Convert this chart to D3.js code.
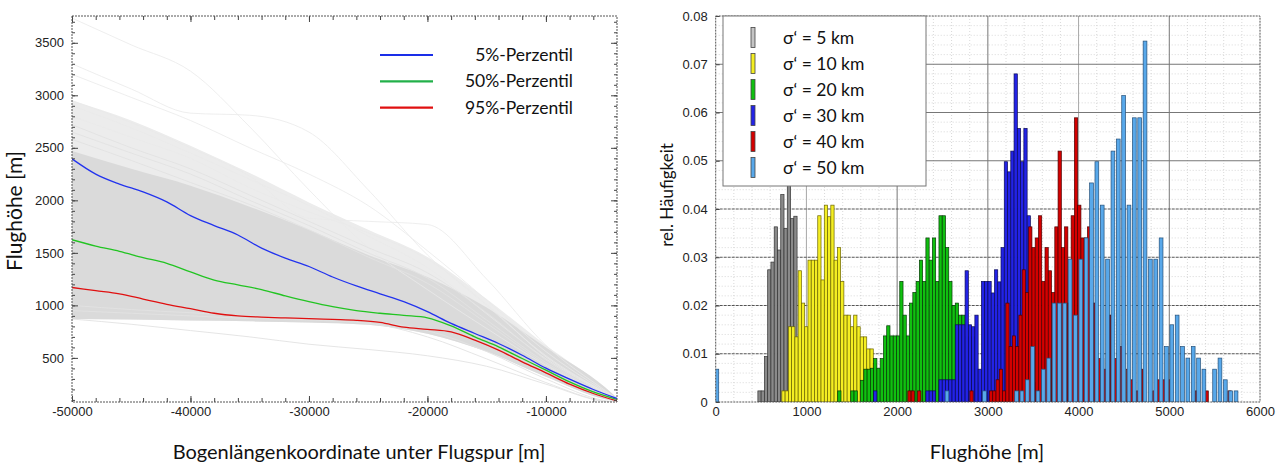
<!DOCTYPE html>
<html lang="de">
<head>
<meta charset="utf-8">
<title>Flughöhe – Perzentile und Häufigkeiten</title>
<script src="https://d3js.org/d3.v7.min.js"></script>
<style>
    body { margin: 0; background: #fff; }
    .tick text { font-family: "Liberation Sans", Arial, sans-serif; font-size: 13px; fill: #222; }
    .tick line { stroke: #444; }
    .axisTitle { font-family: Lato, "Open Sans", sans-serif; font-size: 20px; fill: #111; }
    .legendText { font-family: Lato, "Open Sans", sans-serif; font-size: 17.5px; fill: #111; }
    .frame { fill: none; stroke: #555; stroke-width: 1; stroke-dasharray: 2, 1; }
</style>
</head>
<body>
<script>
var w = 1283, h = 464;

// ---------- left chart: altitude along the track ----------
var xGrid = [-50000, -48000, -46000, -44000, -42000, -40000, -38000, -36000, -34000, -32000, -30000, -28000,
             -26000, -24000, -22000, -20000, -18000, -16000, -14000, -12000, -10000, -8000, -6000, -4000];
var p5  = [2395, 2250, 2155, 2080, 1985, 1855, 1760, 1670, 1545, 1450, 1370, 1270,
           1185, 1110, 1035, 940, 828, 732, 637, 525, 402, 297, 199, 113];
var p50 = [1625, 1565, 1515, 1455, 1400, 1318, 1240, 1195, 1150, 1090, 1035, 987,
           950, 925, 905, 882, 805, 700, 605, 494, 383, 271, 176, 104];
var p95 = [1170, 1140, 1110, 1060, 1010, 968, 925, 900, 888, 880, 874, 866,
           858, 838, 792, 772, 748, 669, 574, 462, 358, 250, 161, 90];
var percentileNames = ["5%-Perzentil", "50%-Perzentil", "95%-Perzentil"];

// single trajectories (grey spaghetti), coarser grid
var traceGrid = [-50000, -45000, -40000, -35000, -30000, -25000, -20000, -15000, -10000, -5000, -4000];
var hazeTop    = [2950, 2760, 2520, 2260, 1980, 1720, 1460, 1060, 620, 215, 120];
var bandTop    = [2470, 2300, 2140, 1940, 1720, 1480, 1270, 980, 600, 220, 118];
var bandBottom = [870, 865, 855, 848, 838, 815, 730, 560, 320, 105, 82];
var trace1  = [3735, 3480, 3230, 2700, 2100, 1550, 1150, 780, 430, 150, 100];
var trace2  = [3300, 3060, 2830, 2810, 2650, 2100, 1480, 1000, 520, 170, 105];
var trace3  = [3200, 2980, 2760, 2500, 2250, 1950, 1520, 1050, 560, 180, 110];
var trace4  = [2950, 2740, 2500, 2230, 1830, 1800, 1770, 1250, 620, 190, 110];
var trace5  = [2900, 2690, 2450, 2200, 1950, 1660, 1360, 920, 490, 160, 100];
var trace6  = [2800, 2600, 2400, 2120, 1890, 1690, 1440, 1010, 510, 165, 100];
var trace7  = [2720, 2500, 2300, 2050, 1800, 1550, 1310, 930, 480, 150, 98];
var trace8  = [2650, 2450, 2250, 2000, 1760, 1500, 1260, 860, 455, 150, 95];
var trace9  = [2580, 2380, 2170, 1960, 1720, 1460, 1210, 830, 440, 148, 95];
var trace10 = [1000, 960, 930, 900, 880, 850, 760, 560, 300, 92, 76];
var trace11 = [950, 925, 900, 875, 860, 830, 700, 490, 265, 85, 72];
var trace12 = [870, 820, 760, 700, 630, 580, 520, 420, 250, 82, 70];
var faintTraces = [trace1, trace2, trace3, trace4, trace5, trace6];
var traces = [trace7, trace8, trace9, trace10, trace11, trace12];

// ---------- right chart: histograms of flight altitude ----------
var binWidth = 36;        // m
var wideBinWidth = 59;    // m, sigma' = 50 km
var sigma5Start = 465;
var sigma5 = [0.0023, 0.0023, 0.0094, 0.0274, 0.029, 0.0363, 0.0315, 0.043, 0.036, 0.049, 0.038, 0.0385, 0.012, 0.004];
var sigma10Start = 729;
var sigma10 = [0.0023, 0.0023, 0.0156, 0.0156, 0.0135, 0.0272, 0.0205, 0.0156, 0.0294, 0.0294, 0.0294, 0.0386, 0.0253,
               0.0408, 0.0384, 0.0408, 0.0294, 0.032, 0.025, 0.018, 0.018, 0.0156, 0.018, 0.0156, 0.0135, 0.0135,
               0.011, 0.011, 0.008, 0.004];
var sigma20Start = 1345;
var sigma20 = [0.0023, 0, 0, 0, 0.0023, 0.0023, 0, 0.0045, 0.0068, 0.0068, 0.007, 0.009, 0.007, 0.009, 0.0137,
               0.0158, 0.0137, 0.0137, 0.0137, 0.025, 0.018, 0.0137, 0.0205, 0.0227, 0.025, 0.0294, 0.025, 0.034,
               0.0294, 0.034, 0.025, 0.0386, 0.0386, 0.032, 0.025, 0.02, 0.0205, 0.018, 0.018, 0.0135, 0.0135,
               0.0135, 0.004];
var sigma30Start = 1741;
var sigma30 = [0.0023, 0, 0, 0, 0, 0, 0, 0, 0, 0, 0, 0, 0, 0, 0, 0, 0.0023, 0.0023, 0.0023, 0, 0.0046, 0.0046,
               0.0046, 0.0046, 0.0046, 0.016, 0.016, 0.016, 0.0272, 0.016, 0.0156, 0.018, 0.0068, 0.025, 0.025,
               0.025, 0.0226, 0.0274, 0.0249, 0.032, 0.0498, 0.0477, 0.052, 0.068, 0.0567, 0.0498, 0.0567,
               0.0386, 0.016, 0.004];
var sigma40Start = 2082;
var sigma40 = [0, 0.0023, 0.0023, 0, 0.0023, 0, 0, 0, 0, 0, 0, 0, 0, 0, 0, 0, 0, 0, 0, 0, 0.0023, 0, 0, 0, 0, 0,
               0.0023, 0.0023, 0.0046, 0.0068, 0.0023, 0.0205, 0.0115, 0.0137, 0.0115, 0.018, 0.0274, 0.0227,
               0.0363, 0.032, 0.034, 0.0386, 0.025, 0.032, 0.0272, 0.0227, 0.0363, 0.052, 0.032, 0.0363, 0.0205,
               0.0386, 0.0589, 0.0408, 0.034, 0.034, 0.0363, 0.0205, 0.0205, 0.009, 0.009, 0.0068, 0.018, 0.018,
               0.009, 0, 0.0115, 0, 0.0068, 0.0046, 0, 0.0023, 0.0068, 0, 0, 0, 0.0023, 0.0046, 0, 0.0046, 0,
               0.0046, 0, 0, 0, 0, 0, 0, 0, 0.0023, 0, 0, 0.0023, 0, 0, 0, 0, 0, 0, 0.0023];
var sigma50Start = -8;
var sigma50 = [0.0068, 0, 0, 0, 0, 0, 0, 0, 0, 0, 0, 0, 0, 0, 0, 0, 0, 0, 0, 0, 0, 0, 0, 0, 0, 0, 0, 0, 0, 0, 0,
               0, 0, 0, 0, 0, 0, 0, 0, 0, 0, 0, 0, 0.0023, 0, 0, 0, 0, 0, 0, 0.0023, 0, 0, 0, 0, 0, 0.0023,
               0.0023, 0.0046, 0.0115, 0.0023, 0.0068, 0.0091, 0.0205, 0.0205, 0.0205, 0.0296, 0.018, 0.0296,
               0.034, 0.0454, 0.0498, 0.0408, 0.0296, 0.052, 0.0545, 0.0635, 0.0408, 0.0589, 0.0589, 0.0748,
               0.0296, 0.0296, 0.034, 0.0115, 0.016, 0.018, 0.0115, 0.0091, 0.0115, 0.0091, 0.0068, 0, 0.0068,
               0.0091, 0.0046, 0.0023, 0.0023];
var sigmaLabels = ["σ‘ = 5 km", "σ‘ = 10 km", "σ‘ = 20 km", "σ‘ = 30 km", "σ‘ = 40 km", "σ‘ = 50 km"];
var xTicksRight = [0, 1000, 2000, 3000, 4000, 5000, 6000];
var yTicksRight = [0, 0.01, 0.02, 0.03, 0.04, 0.05, 0.06, 0.07, 0.08];

var svg = d3.select("body").append("svg")
    .attr("width", w)
    .attr("height", h);

// plain numbers with an ascii minus, as in the original plot
var plainNum = function(d) { return String(d); };

// =============== LEFT ===============
var L = { x0: 72, x1: 617, y0: 16, y1: 402 };
var xL = d3.scaleLinear().domain([-50000, -4000]).range([L.x0, L.x1]);
var yL = d3.scaleLinear().domain([80, 3755]).range([L.y1, L.y0]);

svg.append("clipPath").attr("id", "clipL")
    .append("rect").attr("x", L.x0).attr("y", L.y0).attr("width", L.x1 - L.x0).attr("height", L.y1 - L.y0);
var gL = svg.append("g").attr("clip-path", "url(#clipL)");

// lighter haze of many lines above, dense grey core below
var band = d3.area()
    .x(function(d, i) { return xL(traceGrid[i]); })
    .y0(function(d, i) { return yL(bandBottom[i]); })
    .y1(function(d) { return yL(d); })
    .curve(d3.curveMonotoneX);
gL.append("path").datum(hazeTop).attr("d", band).attr("fill", "#ececec");
gL.append("path").datum(bandTop).attr("d", band).attr("fill", "#dadada");

var traceLine = d3.line()
    .x(function(d, i) { return xL(traceGrid[i]); })
    .y(function(d) { return yL(d); })
    .curve(d3.curveMonotoneX);
gL.selectAll(".faint").data(faintTraces).enter().append("path")
    .attr("d", traceLine).attr("fill", "none").attr("stroke", "#eaeaea").attr("stroke-width", 0.8);
gL.selectAll(".trace").data(traces).enter().append("path")
    .attr("d", traceLine).attr("fill", "none").attr("stroke", "#e2e2e2").attr("stroke-width", 0.9);

// percentile lines
var pLine = d3.line()
    .x(function(d, i) { return xL(xGrid[i]); })
    .y(function(d) { return yL(d); })
    .curve(d3.curveMonotoneX);
var pColors = ["#2233ee", "#22c422", "#e01010"];
[p95, p50, p5].forEach(function(s, k) {
    gL.append("path").datum(s).attr("d", pLine)
        .attr("fill", "none").attr("stroke", pColors[2 - k]).attr("stroke-width", 1.3);
});

// axes, ticks pointing inward
function noDomain(g) { g.select(".domain").remove(); }
svg.append("g").attr("transform", "translate(0," + L.y1 + ")")
    .call(d3.axisBottom(xL).tickValues([-50000, -40000, -30000, -20000, -10000]).tickSize(-6).tickPadding(5)
        .tickFormat(plainNum)).call(noDomain);
svg.append("g").attr("transform", "translate(0," + L.y1 + ")")
    .call(d3.axisBottom(xL).tickValues(d3.range(-48000, -4000, 2000)).tickSize(-4).tickFormat("")).call(noDomain);
svg.append("g").attr("transform", "translate(0," + L.y0 + ")")
    .call(d3.axisTop(xL).tickValues([-50000, -40000, -30000, -20000, -10000]).tickSize(-6).tickFormat("")).call(noDomain);
svg.append("g").attr("transform", "translate(0," + L.y0 + ")")
    .call(d3.axisTop(xL).tickValues(d3.range(-48000, -4000, 2000)).tickSize(-4).tickFormat("")).call(noDomain);
svg.append("g").attr("transform", "translate(" + L.x0 + ",0)")
    .call(d3.axisLeft(yL).tickValues(d3.range(500, 3501, 500)).tickSize(-6).tickPadding(8).tickFormat(plainNum))
    .call(noDomain);
svg.append("g").attr("transform", "translate(" + L.x0 + ",0)")
    .call(d3.axisLeft(yL).tickValues(d3.range(100, 3701, 100)).tickSize(-3).tickFormat("")).call(noDomain);
svg.append("g").attr("transform", "translate(" + L.x1 + ",0)")
    .call(d3.axisRight(yL).tickValues(d3.range(500, 3501, 500)).tickSize(-6).tickFormat("")).call(noDomain);
svg.append("g").attr("transform", "translate(" + L.x1 + ",0)")
    .call(d3.axisRight(yL).tickValues(d3.range(100, 3701, 100)).tickSize(-3).tickFormat("")).call(noDomain);

svg.append("rect").attr("class", "frame")
    .attr("x", L.x0).attr("y", L.y0).attr("width", L.x1 - L.x0).attr("height", L.y1 - L.y0);

// legend
var legL = svg.append("g");
percentileNames.forEach(function(name, i) {
    var yy = 55 + i * 26.3;
    legL.append("line").attr("x1", 380).attr("x2", 433).attr("y1", yy).attr("y2", yy)
        .attr("stroke", ["#1a2ee8", "#22b04a", "#e01010"][i]).attr("stroke-width", 2.2);
    legL.append("text").attr("class", "legendText").attr("x", 573).attr("y", yy + 6)
        .attr("text-anchor", "end").text(name);
});

svg.append("text").attr("class", "axisTitle").attr("text-anchor", "middle").style("font-size", "21px")
    .attr("transform", "translate(22,211) rotate(-90)").text("Flughöhe [m]");
svg.append("text").attr("class", "axisTitle").attr("text-anchor", "middle")
    .attr("x", 359).attr("y", 459).text("Bogenlängenkoordinate unter Flugspur [m]");

// =============== RIGHT ===============
var R = { x0: 715.7, x1: 1260, y0: 16, y1: 402 };
var xR = d3.scaleLinear().domain([0, 6000]).range([R.x0, R.x1]);
var yR = d3.scaleLinear().domain([0, 0.08]).range([R.y1, R.y0]);

var grid = svg.append("g");
// minor grid
grid.selectAll(".vmin").data(d3.range(200, 6000, 200).filter(function(d) { return d % 1000 !== 0; }))
    .enter().append("line")
    .attr("x1", function(d) { return xR(d); }).attr("x2", function(d) { return xR(d); })
    .attr("y1", R.y0).attr("y2", R.y1)
    .attr("stroke", "#cfcfcf").attr("stroke-width", 0.8).attr("stroke-dasharray", "1,2");
grid.selectAll(".hmin").data(d3.range(1, 40).map(function(k) { return k * 0.002; })
        .filter(function(d, i) { return (i + 1) % 5 !== 0; }))
    .enter().append("line")
    .attr("x1", R.x0).attr("x2", R.x1)
    .attr("y1", function(d) { return yR(d); }).attr("y2", function(d) { return yR(d); })
    .attr("stroke", "#cfcfcf").attr("stroke-width", 0.8).attr("stroke-dasharray", "1,2");
// major grid
grid.selectAll(".vmaj").data([1000, 2000, 3000, 4000, 5000]).enter().append("line")
    .attr("x1", function(d) { return xR(d); }).attr("x2", function(d) { return xR(d); })
    .attr("y1", R.y0).attr("y2", R.y1)
    .attr("stroke", function(d) { return d === 4000 || d === 1000 ? "#a8a8a8" : "#777"; }).attr("stroke-width", 1);
grid.selectAll(".hmaj").data([0.01, 0.02, 0.03, 0.04, 0.05, 0.06, 0.07]).enter().append("line")
    .attr("x1", R.x0).attr("x2", R.x1)
    .attr("y1", function(d) { return yR(d); }).attr("y2", function(d) { return yR(d); })
    .attr("stroke", function(d) { return d > 0.045 ? "#777" : "#555"; }).attr("stroke-width", 1)
    .attr("stroke-dasharray", function(d) { return d > 0.045 ? null : "3,1"; });

svg.append("clipPath").attr("id", "clipR")
    .append("rect").attr("x", R.x0).attr("y", R.y0).attr("width", R.x1 - R.x0).attr("height", R.y1 - R.y0);
var gR = svg.append("g").attr("clip-path", "url(#clipR)");

var series = [
    { values: sigma5,  start: sigma5Start,  width: binWidth,     fill: "#8a8a8a", stroke: "#333", frac: 1 },
    { values: sigma10, start: sigma10Start, width: binWidth,     fill: "#f4ee22", stroke: "#6b6400", frac: 1 },
    { values: sigma20, start: sigma20Start, width: binWidth,     fill: "#10c010", stroke: "#063806", frac: 1 },
    { values: sigma30, start: sigma30Start, width: binWidth,     fill: "#2323e6", stroke: "#0a0a55", frac: 1 },
    { values: sigma40, start: sigma40Start, width: binWidth,     fill: "#d40000", stroke: "#4a0000", frac: 1 },
    { values: sigma50, start: sigma50Start, width: wideBinWidth, fill: "#58a8ea", stroke: "#24507a", frac: 0.7 }
];
var swatchFills = ["#c4c4c4", "#f4ee22", "#10c010", "#2323e6", "#d40000", "#58a8ea"];
series.forEach(function(s) {
    var bins = s.values.map(function(v, i) { return { x0: s.start + i * s.width, v: v }; })
        .filter(function(b) { return b.v > 0; });
    gR.selectAll(null).data(bins).enter().append("rect")
        .attr("x", function(b) { return xR(b.x0); })
        .attr("width", function(b) { return (xR(b.x0 + s.width) - xR(b.x0)) * s.frac; })
        .attr("y", function(b) { return yR(b.v); })
        .attr("height", function(b) { return yR(0) - yR(b.v); })
        .attr("fill", s.fill).attr("stroke", s.stroke).attr("stroke-width", 0.7);
});

svg.append("g").attr("transform", "translate(0," + R.y1 + ")")
    .call(d3.axisBottom(xR).tickValues(xTicksRight).tickSize(0).tickPadding(5).tickFormat(plainNum))
    .call(noDomain);
svg.append("g").attr("transform", "translate(" + R.x0 + ",0)")
    .call(d3.axisLeft(yR).tickValues(yTicksRight).tickSize(-4).tickPadding(8)
        .tickFormat(function(d) { return d === 0 ? "0" : d3.format(".2f")(d); }))
    .call(noDomain);
svg.append("rect").attr("class", "frame")
    .attr("x", R.x0).attr("y", R.y0).attr("width", R.x1 - R.x0).attr("height", R.y1 - R.y0);

// legend box
var legR = svg.append("g");
legR.append("rect").attr("x", 723).attr("y", 16).attr("width", 203).attr("height", 170)
    .attr("fill", "#fff").attr("stroke", "#777").attr("stroke-width", 1);
sigmaLabels.forEach(function(label, i) {
    var yy = 37.5 + i * 26;
    legR.append("rect").attr("x", 751).attr("y", yy - 10).attr("width", 4).attr("height", 20)
        .attr("fill", swatchFills[i]).attr("stroke", "#444").attr("stroke-width", 0.8);
    legR.append("text").attr("class", "legendText").attr("x", 783).attr("y", yy + 6).text(label);
});

svg.append("text").attr("class", "axisTitle").attr("text-anchor", "middle").style("font-size", "17px")
    .attr("transform", "translate(673,195) rotate(-90)").text("rel. Häufigkeit");
svg.append("text").attr("class", "axisTitle").attr("text-anchor", "middle")
    .attr("x", 987).attr("y", 459).text("Flughöhe [m]");
</script>
</body>
</html>
